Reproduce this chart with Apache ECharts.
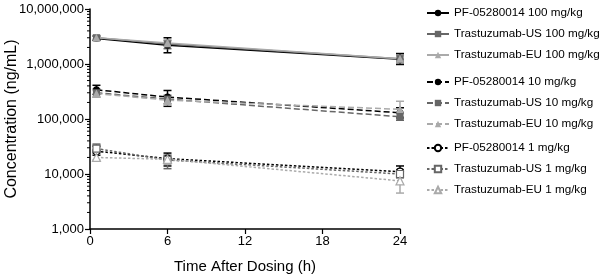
<!DOCTYPE html>
<html><head><meta charset="utf-8">
<script src="https://cdn.jsdelivr.net/npm/echarts@6/dist/echarts.min.js"></script>
<style>html,body{margin:0;padding:0;background:#fff}#c{width:602px;height:274px}</style>
</head><body><div id="c"></div>
<script>
var times = [0.5, 6, 24];
var xTicks = [0, 6, 12, 18, 24];
var yTickValues = [1000, 10000, 100000, 1000000, 10000000];

var names = [
  'PF-05280014 100 mg/kg', 'Trastuzumab-US 100 mg/kg', 'Trastuzumab-EU 100 mg/kg',
  'PF-05280014 10 mg/kg', 'Trastuzumab-US 10 mg/kg', 'Trastuzumab-EU 10 mg/kg',
  'PF-05280014 1 mg/kg', 'Trastuzumab-US 1 mg/kg', 'Trastuzumab-EU 1 mg/kg'
];

var pf100 = [2.9e6, 2.2e6, 1.22e6];
var us100 = [3.0e6, 2.3e6, 1.25e6];
var eu100 = [3.0e6, 2.4e6, 1.25e6];
var pf10 = [3.4e5, 2.5e5, 1.3e5];
var us10 = [3.0e5, 2.3e5, 1.1e5];
var eu10 = [2.9e5, 2.2e5, 1.5e5];
var pf1 = [2.6e4, 1.9e4, 1.1e4];
var us1 = [2.9e4, 1.8e4, 1.0e4];
var eu1 = [2.0e4, 1.85e4, 7.5e3];

var pf100Hi = [3.2e6, 3.0e6, 1.55e6], pf100Lo = [2.7e6, 1.6e6, 0.98e6];
var us100Hi = [3.3e6, 2.7e6, 1.45e6], us100Lo = [2.7e6, 1.9e6, 1.05e6];
var eu100Hi = [3.2e6, 2.6e6, 1.4e6], eu100Lo = [2.8e6, 2.1e6, 1.1e6];
var pf10Hi = [4.1e5, 3.3e5, 1.6e5], pf10Lo = [2.8e5, 1.7e5, 1.05e5];
var us10Hi = [3.5e5, 2.7e5, 1.3e5], us10Lo = [2.5e5, 1.9e5, 0.95e5];
var eu10Hi = [3.3e5, 2.6e5, 2.1e5], eu10Lo = [2.5e5, 1.8e5, 1.1e5];
var pf1Hi = [3.2e4, 2.4e4, 1.4e4], pf1Lo = [2.2e4, 1.4e4, 0.9e4];
var us1Hi = [3.5e4, 2.2e4, 1.2e4], us1Lo = [2.4e4, 1.25e4, 0.85e4];
var eu1Hi = [2.3e4, 2.2e4, 1.0e4], eu1Lo = [1.8e4, 1.5e4, 4.5e3];

var minorMultipliers = [2, 3, 4, 5, 6, 7, 8, 9];
var decades = [1000, 10000, 100000, 1000000];

var FONT = 'Arial, "Liberation Sans", Helvetica, sans-serif';
var cPF = '#000000', cUS = '#666666', cEU = '#aaaaaa';

var values = [pf100, us100, eu100, pf10, us10, eu10, pf1, us1, eu1];
var his = [pf100Hi, us100Hi, eu100Hi, pf10Hi, us10Hi, eu10Hi, pf1Hi, us1Hi, eu1Hi];
var los = [pf100Lo, us100Lo, eu100Lo, pf10Lo, us10Lo, eu10Lo, pf1Lo, us1Lo, eu1Lo];
var colors = [cPF, cUS, cEU, cPF, cUS, cEU, cPF, cUS, cEU];
var symbols = ['circle', 'rect', 'triangle', 'circle', 'rect', 'triangle', 'circle', 'rect', 'triangle'];
var lineTypes = ['solid', 'solid', 'solid', [6, 3], [6, 3], [6, 3], [2.5, 2], [2.5, 2], [2.5, 2]];
var openMarker = [false, false, false, false, false, false, true, true, true];

var series = [];
for (var i = 0; i < 9; i++) {
  (function (i) {
    var d = times.map(function (t, k) { return [t, los[i][k], his[i][k]]; });
    series.push({
      type: 'custom', name: 'err' + i, silent: true, z: 2,
      data: d, encode: { x: 0, y: [1, 2] },
      renderItem: function (params, api) {
        var lo = api.coord([api.value(0), api.value(1)]);
        var hi = api.coord([api.value(0), api.value(2)]);
        var w = 4;
        var st = { stroke: colors[i], lineWidth: 1.5 };
        return { type: 'group', children: [
          { type: 'line', shape: { x1: lo[0], y1: lo[1], x2: hi[0], y2: hi[1] }, style: st },
          { type: 'line', shape: { x1: lo[0] - w, y1: lo[1], x2: lo[0] + w, y2: lo[1] }, style: st },
          { type: 'line', shape: { x1: hi[0] - w, y1: hi[1], x2: hi[0] + w, y2: hi[1] }, style: st }
        ] };
      }
    });
  })(i);
}
for (var j = 0; j < 9; j++) {
  series.push({
    type: 'line', name: names[j], z: 3,
    data: times.map(function (t, k) { return [t, values[j][k]]; }),
    symbol: symbols[j],
    symbolSize: symbols[j] === 'triangle' ? 8 : 7,
    showSymbol: true,
    lineStyle: { color: colors[j], width: 1.5, type: lineTypes[j] },
    itemStyle: openMarker[j] ? { color: '#ffffff', borderColor: colors[j], borderWidth: 1.2 } : { color: colors[j], borderColor: colors[j], borderWidth: 0 },
    emphasis: { disabled: true },
    animation: false
  });
}
var minorData = [];
decades.forEach(function (d) { minorMultipliers.forEach(function (m) { minorData.push([0, d * m]); }); });
series.push({
  type: 'custom', name: 'minor', silent: true, clip: false, z: 1,
  data: minorData,
  renderItem: function (params, api) {
    var p = api.coord([api.value(0), api.value(1)]);
    return { type: 'line', shape: { x1: p[0] - 3, y1: p[1], x2: p[0], y2: p[1] }, style: { stroke: '#000', lineWidth: 1 } };
  }
});

function legendFor(list, top) {
  return {
    data: list, left: 426, top: top, orient: 'vertical', padding: 0,
    itemWidth: 22, itemHeight: 8, itemGap: 9,
    textStyle: { fontFamily: FONT, fontSize: 11.7, color: '#000' },
    selectedMode: false
  };
}

var chart = echarts.init(document.getElementById('c'), null, { renderer: 'canvas' });
chart.setOption({
  animation: false,
  backgroundColor: '#fff',
  grid: { left: 90, right: 202, top: 9, bottom: 45, containLabel: false, outerBoundsMode: 'none' },
  legend: [
    legendFor(names.slice(0, 3), 7),
    legendFor(names.slice(3, 6), 76),
    legendFor(names.slice(6, 9), 142)
  ],
  xAxis: {
    type: 'value', min: xTicks[0], max: xTicks[xTicks.length - 1], interval: 6,
    name: 'Time After Dosing (h)', nameLocation: 'middle', nameGap: 30, nameMoveOverlap: false,
    nameTextStyle: { fontFamily: FONT, fontSize: 15, color: '#000' },
    axisLine: { lineStyle: { color: '#000', width: 1.5 } },
    axisTick: { inside: false, length: 5, lineStyle: { color: '#000', width: 1.2 } },
    axisLabel: { fontFamily: FONT, fontSize: 13, color: '#000', margin: 6 },
    splitLine: { show: false }
  },
  yAxis: {
    type: 'log', logBase: 10, min: yTickValues[0], max: yTickValues[yTickValues.length - 1],
    name: 'Concentration (ng/mL)', nameLocation: 'middle', nameGap: 70, nameMoveOverlap: false,
    nameTextStyle: { fontFamily: FONT, fontSize: 16, color: '#000' },
    axisLine: { show: true, lineStyle: { color: '#000', width: 1.5 } },
    axisTick: { show: true, inside: false, length: 5, lineStyle: { color: '#000', width: 1.2 } },
    axisLabel: { fontFamily: FONT, fontSize: 13, color: '#000', margin: 6,
      formatter: function (v) { return Math.round(v).toLocaleString('en-US'); } },
    splitLine: { show: false }
  },
  series: series
});
</script></body></html>
